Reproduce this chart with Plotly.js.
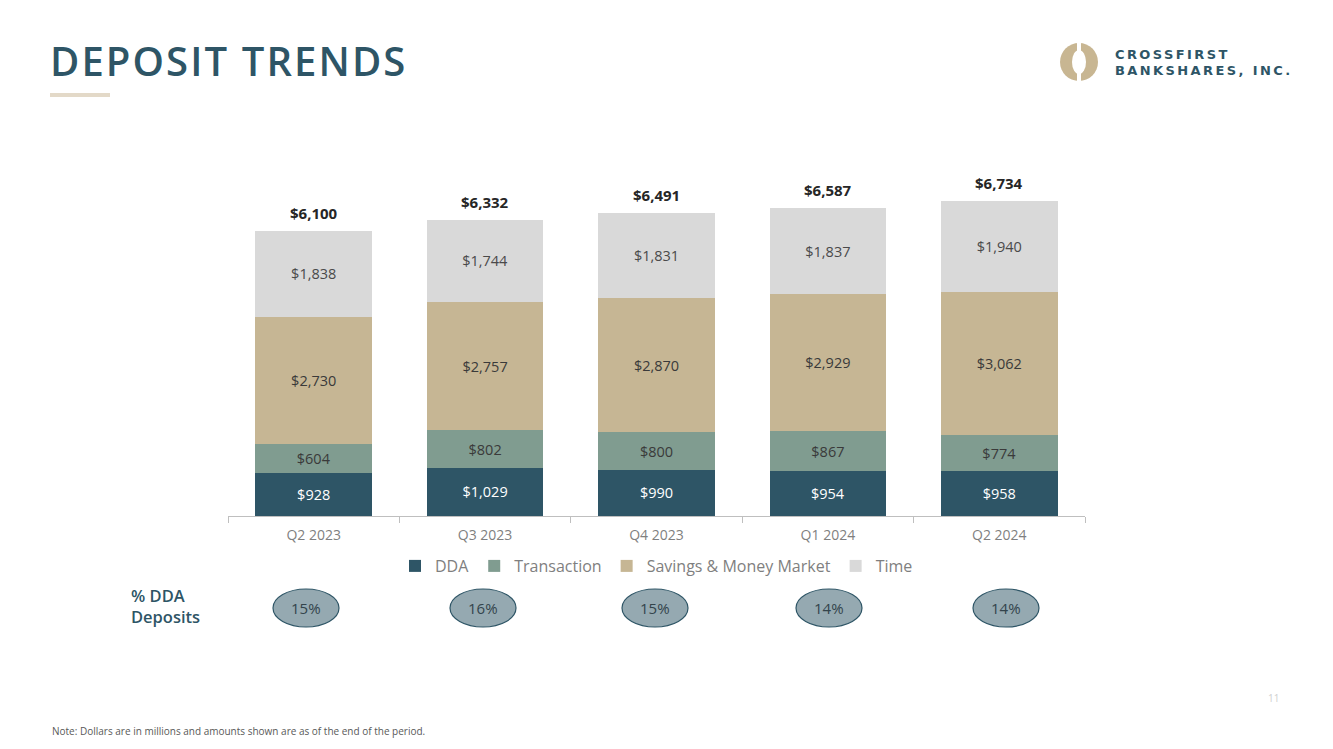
<!DOCTYPE html>
<html>
<head>
<meta charset="utf-8">
<script src="https://cdn.plot.ly/plotly-3.0.1.min.js"></script>
<style>
html,body{margin:0;padding:0;background:#fff;}
#chart{width:1333px;height:749px;}
</style>
</head>
<body>
<div id="chart"></div>
<script>
// ---- data ----
var quarters = ["Q2 2023", "Q3 2023", "Q4 2023", "Q1 2024", "Q2 2024"];
var dda = [928, 1029, 990, 954, 958];
var transaction = [604, 802, 800, 867, 774];
var savings = [2730, 2757, 2870, 2929, 3062];
var time = [1838, 1744, 1831, 1837, 1940];
var totals = [6100, 6332, 6491, 6587, 6734];
var ddaPct = ["15%", "16%", "15%", "14%", "14%"];
var seriesNames = ["DDA", "Transaction", "Savings & Money Market", "Time"];

// ---- layout helpers (pixel -> paper) ----
var L = 228, R = 1085, T = 170, B = 516;
var PW = R - L, PH = B - T;
function px(x) { return (x - L) / PW; }
function py(y) { return (B - y) / PH; }

var FONT = "Open Sans, Lato, sans-serif";
var colors = ["#2e5566", "#809c90", "#c6b694", "#d9d9d9"];
var textColors = ["#ffffff", "#3a3a3a", "#3a3a3a", "#4a4a4a"];
var seriesData = [dda, transaction, savings, time];

var traces = seriesData.map(function (vals, i) {
  return {
    type: "bar",
    name: seriesNames[i],
    x: quarters,
    y: vals,
    marker: { color: colors[i], line: { width: 0 } },
    texttemplate: "$%{y:,}",
    textposition: "inside",
    insidetextanchor: "middle",
    textangle: 0,
    textfont: { family: FONT, size: 14.5, color: textColors[i] },
    hoverinfo: "skip"
  };
});

var annotations = [];
// totals above bars
quarters.forEach(function (q, i) {
  annotations.push({
    x: q, y: totals[i], xref: "x", yref: "y",
    text: "$" + totals[i].toLocaleString("en-US"),
    showarrow: false, yanchor: "bottom", yshift: 6,
    font: { family: FONT, size: 15, color: "#262626", weight: "bold" }
  });
});

// % DDA ellipses
var ellipseCenters = [306, 483, 655, 829, 1006];
var shapes = [];
ellipseCenters.forEach(function (cx, i) {
  shapes.push({
    type: "circle", xref: "paper", yref: "paper",
    x0: px(cx - 33), x1: px(cx + 33), y0: py(627), y1: py(589),
    fillcolor: "#95a9b1", line: { color: "#2e5566", width: 1.2 }
  });
  annotations.push({
    x: px(cx), y: py(608), xref: "paper", yref: "paper",
    text: ddaPct[i], showarrow: false, xanchor: "center", yanchor: "middle",
    font: { family: FONT, size: 15, color: "#33444c" }
  });
});

annotations.push({
  x: px(129), y: py(606), xref: "paper", yref: "paper",
  text: "% DDA<br>Deposits", showarrow: false, xanchor: "left", yanchor: "middle", align: "left",
  font: { family: FONT, size: 16.5, color: "#2e5566", weight: 600 }
});

// note
annotations.push({
  x: px(50), y: py(731), xref: "paper", yref: "paper",
  text: "Note: Dollars are in millions and amounts shown are as of the end of the period.",
  showarrow: false, xanchor: "left", yanchor: "middle",
  font: { family: FONT, size: 10, color: "#595959" }
});
// page number
annotations.push({
  x: px(1273), y: py(698), xref: "paper", yref: "paper",
  text: "11", showarrow: false, xanchor: "center", yanchor: "middle",
  font: { family: FONT, size: 10, color: "#cfcfcf" }
});
// logo text
annotations.push({
  x: px(1113), y: py(54), xref: "paper", yref: "paper",
  text: "<span style='letter-spacing:2.4px'>CROSSFIRST</span>",
  showarrow: false, xanchor: "left", yanchor: "middle",
  font: { family: "DejaVu Sans", size: 13, color: "#2e5566", weight: "bold" }
});
annotations.push({
  x: px(1113), y: py(71), xref: "paper", yref: "paper",
  text: "<span style='letter-spacing:2.4px'>BANKSHARES, INC.</span>",
  showarrow: false, xanchor: "left", yanchor: "middle",
  font: { family: "DejaVu Sans", size: 13, color: "#2e5566", weight: "bold" }
});

// title underline
shapes.push({
  type: "rect", xref: "paper", yref: "paper",
  x0: px(50), x1: px(110), y0: py(97), y1: py(93),
  fillcolor: "#e3d9c8", line: { width: 0 }
});
// logo
shapes.push({
  type: "circle", xref: "paper", yref: "paper",
  x0: px(1060), x1: px(1098), y0: py(81), y1: py(43),
  fillcolor: "#c8b692", line: { width: 0 }
});
shapes.push({
  type: "circle", xref: "paper", yref: "paper",
  x0: px(1072), x1: px(1086), y0: py(74), y1: py(50),
  fillcolor: "#ffffff", line: { width: 0 }
});
shapes.push({
  type: "rect", xref: "paper", yref: "paper",
  x0: px(1077), x1: px(1081), y0: py(82), y1: py(42),
  fillcolor: "#ffffff", line: { width: 0 }
});

var layout = {
  width: 1333, height: 749,
  margin: { l: L, r: 1333 - R, t: T, b: 749 - B, pad: 0 },
  paper_bgcolor: "#ffffff", plot_bgcolor: "rgba(0,0,0,0)",
  barmode: "stack",
  bargap: 0.32,
  showlegend: true,
  title: {
    text: "<span style='letter-spacing:2.1px'>DEPOSIT TRENDS</span>",
    x: 50 / 1333, xanchor: "left", xref: "container",
    y: 1 - 62 / 749, yanchor: "middle", yref: "container",
    font: { family: FONT, size: 40, color: "#2e5566", weight: 600 }
  },
  legend: {
    orientation: "h", x: 0.5, xanchor: "center", y: py(566), yanchor: "middle",
    traceorder: "normal",
    font: { family: FONT, size: 16, color: "#7f7f7f" },
    bgcolor: "rgba(0,0,0,0)"
  },
  xaxis: {
    type: "category",
    showline: true, linecolor: "#bfbfbf", linewidth: 1,
    ticks: "outside", tickson: "boundaries", ticklen: 6, tickcolor: "#bfbfbf",
    ticklabelstandoff: 6,
    tickfont: { family: FONT, size: 14, color: "#7f7f7f" },
    showgrid: false, zeroline: false, fixedrange: true
  },
  yaxis: {
    range: [0, (B - T) / 0.04672],
    visible: false, showgrid: false, zeroline: false, fixedrange: true
  },
  annotations: annotations,
  shapes: shapes,
  font: { family: FONT }
};

Plotly.newPlot("chart", traces, layout, { displayModeBar: false, staticPlot: true });
</script>
</body>
</html>
